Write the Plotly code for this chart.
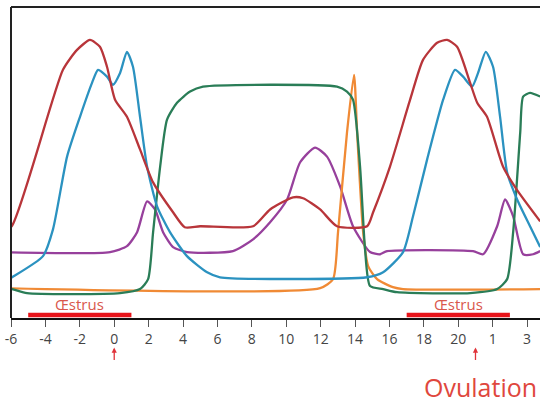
import plotly.graph_objects as go

# day of cycle (21-day cycle, day 21 = day 0 of the next one)
tick_days = [-6, -4, -2, 0, 2, 4, 6, 8, 10, 12, 14, 16, 18, 20, 22, 24]
tick_labels = ["-6", "-4", "-2", "0", "2", "4", "6", "8", "10", "12", "14", "16", "18", "20", "1", "3"]

# relative hormone levels (0-100)
red_x = [-6.6, -5.96, -2.98, -2.16, -1.41, -0.83, -0.42, 0.05, 0.74, 1.5, 2.26, 3.42, 4.1, 5.0, 8.07,
         9.06, 10.4, 10.98, 11.97, 12.95, 14.7, 15.05, 16.03, 17.2, 17.95, 18.77, 19.35, 19.93,
         20.69, 21.1, 21.67, 22.6, 23.4, 24.76]
red_y = [27.5, 29.5, 79.8, 86.2, 89.4, 87.2, 80.8, 70.2, 64.7, 54.2, 43.6, 34.0, 29.2, 29.5, 29.5,
         34.9, 38.8, 38.5, 34.9, 29.5, 29.5, 34.0, 48.7, 70.2, 83.0, 88.5, 89.4, 87.2,
         75.6, 69.2, 64.7, 48.7, 41.3, 31.1]

blue_x = [-6.6, -5.94, -4.14, -3.56, -2.74, -1.99, -1.29, -0.94, -0.42, -0.07, 0.34, 0.74, 1.09,
          1.5, 1.91, 2.49, 3.24, 4.23, 5.4, 6.15, 14.7, 15.63, 16.79, 17.37, 18.19, 19.12, 19.81,
          20.28, 20.8, 21.15, 21.6, 22.02, 22.43, 22.84, 23.42, 24.17, 24.76]
blue_y = [11.0, 13.1, 19.9, 28.5, 51.9, 64.7, 75.6, 79.8, 77.6, 75.0, 78.8, 85.6, 80.8,
          64.7, 48.7, 35.9, 27.6, 19.9, 14.7, 13.1, 13.1, 14.7, 21.2, 32.7, 51.0, 70.2, 79.8,
          77.6, 74.4, 78.8, 85.6, 80.8, 64.7, 46.8, 38.1, 29.5, 22.8]

purple_x = [-6.6, -0.24, 0.74, 1.33, 1.91, 2.37, 2.84, 3.42, 4.23, 6.9, 8.07, 9.06, 10.05, 10.8,
            11.67, 12.37, 13.13, 13.88, 14.87, 15.45, 15.86, 20.86, 21.44, 22.26, 22.72, 23.19,
            23.77, 24.35, 24.76]
purple_y = [21.2, 21.2, 23.1, 27.6, 37.5, 34.9, 27.6, 22.8, 21.2, 21.5, 25.3, 30.8, 38.1, 50.0,
            54.8, 51.9, 42.3, 29.5, 21.2, 20.5, 21.5, 21.5, 20.5, 29.5, 38.1, 32.7,
            20.5, 20.5, 21.5]

green_x = [-6.6, -5.94, -5.07, 0.34, 1.5, 1.97, 2.26, 2.67, 3.07, 3.65, 4.41, 5.16, 12.95, 13.53,
           13.88, 14.29, 14.58, 14.87, 15.63, 16.44, 20.69, 22.26, 22.84, 23.19, 23.6, 23.77,
           24.17, 24.76]
green_y = [9.6, 9.3, 8.0, 8.0, 9.3, 12.5, 27.6, 48.7, 63.8, 69.2, 72.8, 74.4, 74.4, 72.8,
           70.2, 48.7, 22.1, 10.3, 9.3, 8.3, 8.0, 9.3, 12.5, 27.6, 59.6, 71.2,
           72.4, 71.2]

orange_x = [-6.6, 11.97, 12.72, 13.01, 13.53, 13.94, 14.12, 14.47, 14.76, 15.28, 16.2, 16.79, 24.76]
orange_y = [9.6, 9.6, 12.5, 27.6, 59.6, 78.2, 59.6, 27.6, 16.7, 12.5, 9.9, 9.3, 9.3]

oestrus_start = [-5, 17]
oestrus_end = [1, 23]
ovulation_days = [0, 21]

fig = go.Figure()

curves = [
    (purple_x, purple_y, "#97409c"),
    (orange_x, orange_y, "#f08a35"),
    (green_x, green_y, "#2a7d57"),
    (blue_x, blue_y, "#2b92c0"),
    (red_x, red_y, "#b8353a"),
]
for xs, ys, col in curves:
    fig.add_trace(go.Scatter(x=xs, y=ys, mode="lines",
                             line=dict(color=col, width=2.3, shape="spline", smoothing=0.6),
                             hoverinfo="skip"))

for s, e in zip(oestrus_start, oestrus_end):
    fig.add_trace(go.Scatter(x=[s, e], y=[1.0, 1.0], mode="lines",
                             line=dict(color="#e8141a", width=4.5), hoverinfo="skip"))
    fig.add_annotation(x=(s + e) / 2, y=4.6, text="Œstrus", showarrow=False,
                       font=dict(family="Open Sans", size=15, color="#d9574c"))

for d in ovulation_days:
    fig.add_annotation(x=d, xref="x", y=-0.095, yref="paper", text="", showarrow=True,
                       ax=0, ay=14, arrowhead=2, arrowsize=0.8, arrowwidth=1.3,
                       arrowcolor="#e0333a")

fig.add_annotation(x=21.3, xref="x", y=-0.222, yref="paper", text="Ovulation", showarrow=False,
                   yanchor="middle", font=dict(family="Open Sans", size=25, color="#e0473d"))

# frame: top and left border
fig.add_shape(type="line", xref="paper", yref="paper", x0=0, x1=1, y0=1, y1=1,
              line=dict(color="#222", width=2))
fig.add_shape(type="line", xref="paper", yref="paper", x0=0, x1=0, y0=0, y1=1,
              line=dict(color="#222", width=2))

fig.update_layout(
    width=540, height=403,
    margin=dict(l=11, r=0, t=7, b=85, autoexpand=False),
    plot_bgcolor="white", paper_bgcolor="white",
    showlegend=False,
    xaxis=dict(range=[-6, 24.75], tickvals=tick_days, ticktext=tick_labels, automargin=False,
               showgrid=False, zeroline=False, showline=True, linecolor="#111", linewidth=2,
               ticks="outside", ticklen=7, tickwidth=1.3, tickcolor="#555",
               tickfont=dict(family="Open Sans", size=14, color="#444")),
    yaxis=dict(range=[0, 100], showgrid=False, zeroline=False, showticklabels=False,
               showline=False, automargin=False),
)

# drop the default page margin so the figure sits at the window's corner
fig.write_html("out.html", config={"displayModeBar": False},
               post_script="document.body.style.margin='0';")
